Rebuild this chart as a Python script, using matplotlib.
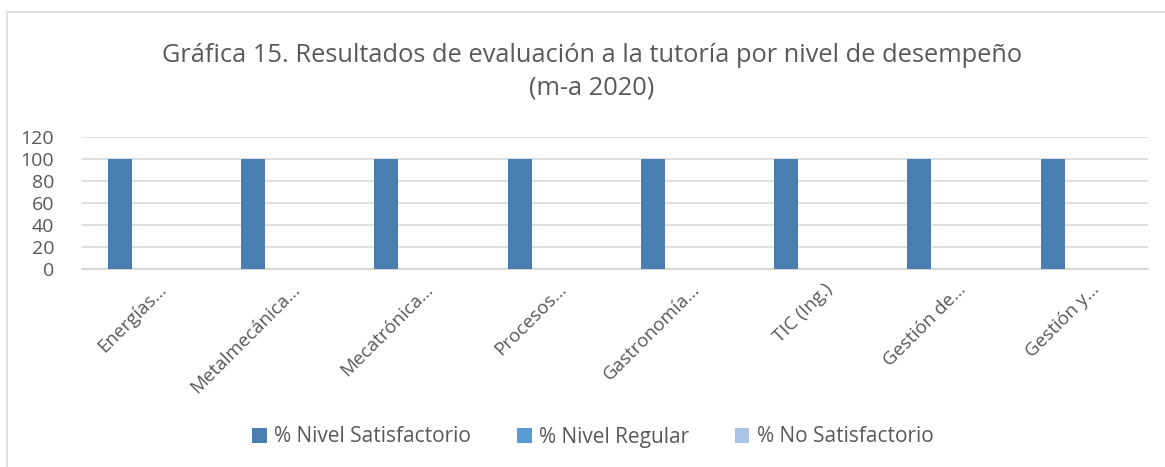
import matplotlib
matplotlib.use("Agg")
import matplotlib.pyplot as plt
import matplotlib.transforms as mtrans
import numpy as np
from matplotlib.patches import Rectangle, Patch

categories = ["Energías…", "Metalmecánica…", "Mecatrónica…", "Procesos…",
              "Gastronomía…", "TIC (Ing.)", "Gestión de…", "Gestión y…"]
series_names = ["% Nivel Satisfactorio", "% Nivel Regular", "% No Satisfactorio"]
satisfactorio = [100, 100, 100, 100, 100, 100, 100, 100]
regular = [0, 0, 0, 0, 0, 0, 0, 0]
no_satisfactorio = [0, 0, 0, 0, 0, 0, 0, 0]
yticks = [0, 20, 40, 60, 80, 100, 120]
title1 = "Gráfica 15. Resultados de evaluación a la tutoría por nivel de desempeño"
title2 = "(m-a 2020)"

colors = ["#4A7EB0", "#5B9BD5", "#A9C4E6"]
txt = "#595959"
plt.rcParams['font.family'] = ['Open Sans', 'DejaVu Sans']

W, H = 1165, 467
fig = plt.figure(figsize=(W / 100, H / 100), dpi=100)
fig.patch.set_facecolor("white")

# chart frame
fig.patches.append(Rectangle((7 / W, -0.05), 1.2, 1 - 12 / H + 0.05,
                             transform=fig.transFigure, fill=False,
                             edgecolor="#D9D9D9", linewidth=1.2))

ax = fig.add_axes([82 / W, 1 - 269 / H, (1148 - 82) / W, (269 - 137) / H])
x = np.arange(len(categories))
bw = 0.18
off = 0.215
for i, (vals, c) in enumerate(zip([satisfactorio, regular, no_satisfactorio], colors)):
    ax.bar(x + (i - 1) * off, vals, width=bw, color=c, zorder=3)

ax.set_xlim(-0.5, len(categories) - 0.5)
ax.set_ylim(0, 120)
ax.set_yticks(yticks)
ax.set_yticklabels([str(v) for v in yticks], fontsize=14, color=txt)
ax.yaxis.grid(True, color="#D9D9D9", linewidth=1.2, zorder=0)
ax.set_axisbelow(True)
for s in ["top", "right", "left"]:
    ax.spines[s].set_visible(False)
ax.spines["bottom"].set_color("#D0D0D0")
ax.spines["bottom"].set_linewidth(1.2)
ax.tick_params(axis="y", length=0, pad=20)
ax.tick_params(axis="x", length=0, pad=8)
ax.set_xticks(x)
ax.set_xticklabels(categories, rotation=45, ha="right", va="top",
                   rotation_mode="anchor", fontsize=13.5, color=txt)
shift = mtrans.ScaledTranslation(9 / 100, 0, fig.dpi_scale_trans)
for lab in ax.get_xticklabels():
    lab.set_transform(lab.get_transform() + shift)

fig.text(592 / W, 1 - 55 / H, title1, ha="center", va="center", fontsize=18.3, color=txt)
fig.text(592 / W, 1 - 88 / H, title2, ha="center", va="center", fontsize=18.3, color=txt)

handles = [Patch(facecolor=c, edgecolor="none") for c in colors]
fig.legend(handles, series_names, loc="center", bbox_to_anchor=(593 / W, 1 - 437 / H),
           ncol=3, frameon=False, fontsize=15, labelcolor=txt,
           handlelength=0.7, handleheight=0.7, handletextpad=0.35, columnspacing=2.2)

fig.savefig("out.png", dpi=100, facecolor="white")
